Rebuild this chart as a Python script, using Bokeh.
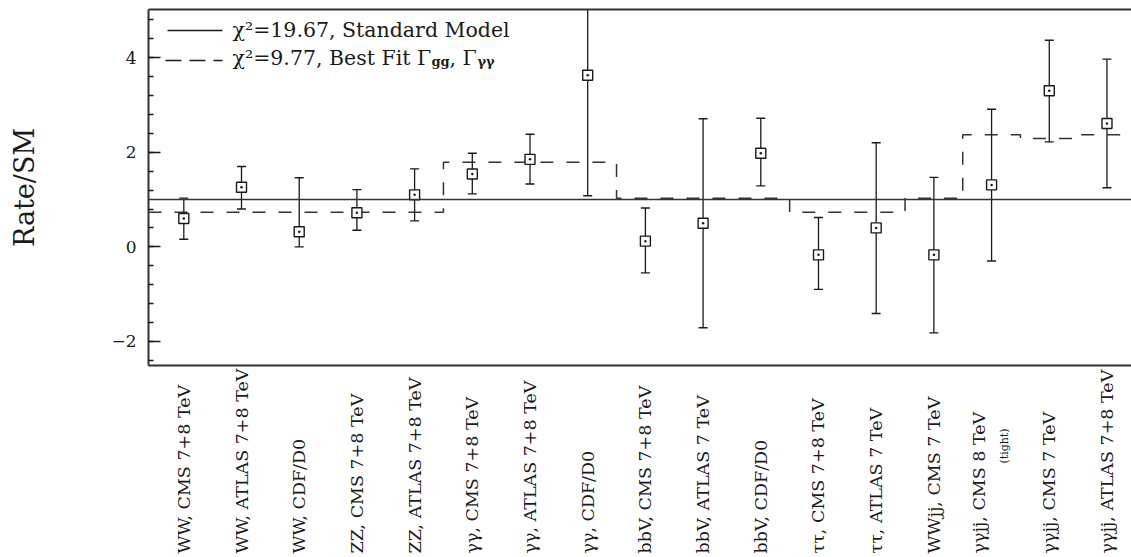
import numpy as np
from bokeh.plotting import figure
from bokeh.layouts import column
from bokeh.models import (ColumnDataSource, Label, Arrow, Span, Range1d,
                          LinearAxis, SingleIntervalTicker, FixedTicker)
from bokeh.embed import file_html
from bokeh.resources import INLINE
from bokeh.core.properties import value

# ---------------- data ----------------
categories = [
    "WW, CMS 7+8 TeV", "WW, ATLAS 7+8 TeV", "WW, CDF/D0",
    "ZZ, CMS 7+8 TeV", "ZZ, ATLAS 7+8 TeV",
    "γγ, CMS 7+8 TeV", "γγ, ATLAS 7+8 TeV", "γγ, CDF/D0",
    "bbV, CMS 7+8 TeV", "bbV, ATLAS 7 TeV", "bbV, CDF/D0",
    "ττ, CMS 7+8 TeV", "ττ, ATLAS 7 TeV",
    "WWjj, CMS 7 TeV",
    "γγjj, CMS 8 TeV", "γγjj, CMS 7 TeV", "γγjj, ATLAS 7+8 TeV",
]
sublabels = {"γγjj, CMS 8 TeV": "(tight)"}

rate = [0.60, 1.26, 0.32, 0.72, 1.10, 1.54, 1.85, 3.63, 0.12, 0.50, 1.98,
        -0.17, 0.40, -0.17, 1.31, 3.30, 2.61]
rate_hi = [1.03, 1.70, 1.46, 1.21, 1.65, 1.98, 2.38, 6.20, 0.82, 2.71, 2.72,
           0.62, 2.20, 1.47, 2.91, 4.37, 3.97]
rate_lo = [0.16, 0.80, 0.00, 0.35, 0.55, 1.12, 1.33, 1.08, -0.55, -1.71, 1.29,
           -0.90, -1.41, -1.82, -0.30, 2.22, 1.25]
best_fit = [0.73, 0.73, 0.73, 0.73, 0.73, 1.79, 1.79, 1.79, 1.03, 1.03, 1.03,
            0.73, 0.73, 1.03, 2.37, 2.29, 2.37]
sm_value = 1.0

legend_sm = "χ²=19.67, Standard Model"
legend_fit = "χ²=9.77, Best Fit Γ"
legend_fit_sub1 = "gg"
legend_fit_mid = ", Γ"
legend_fit_sub2 = "γγ"
y_label = "Rate/SM"
y_tick_interval = 2

# ---------------- figure ----------------
n = len(categories)
xs = np.arange(1, n + 1, dtype=float)
X0, X1 = 0.388, 17.425
Y0, Y1 = -2.51, 5.02

FONT = "DejaVu Serif"
INK = "#1a1a1a"
LEFT = 148

p = figure(width=1131, height=368, x_range=Range1d(X0, X1), y_range=Range1d(Y0, Y1),
           output_backend="svg", toolbar_location=None,
           x_axis_location=None, y_axis_location=None,
           min_border_left=LEFT, min_border_right=0, min_border_top=9, min_border_bottom=3)
p.outline_line_color = None
p.xgrid.visible = False
p.ygrid.visible = False

yaxis = LinearAxis(ticker=SingleIntervalTicker(interval=y_tick_interval, num_minor_ticks=5))
yaxis.major_tick_in = 12
yaxis.major_tick_out = 0
yaxis.minor_tick_in = 5
yaxis.minor_tick_out = 0
yaxis.major_tick_line_width = 1.5
yaxis.minor_tick_line_width = 1.5
yaxis.major_tick_line_color = INK
yaxis.minor_tick_line_color = INK
yaxis.axis_line_width = 2
yaxis.axis_line_color = "#333333"
yaxis.major_label_standoff = 12
yaxis.major_label_text_font = FONT
yaxis.major_label_text_font_size = "17px"
yaxis.major_label_text_color = INK
yaxis.axis_label = y_label
yaxis.axis_label_standoff = 68
yaxis.axis_label_text_font = FONT
yaxis.axis_label_text_font_size = "27px"
yaxis.axis_label_text_font_style = "normal"
yaxis.axis_label_text_color = INK
p.add_layout(yaxis, "left")

for side in ("below", "above"):
    ax = LinearAxis(ticker=FixedTicker(ticks=[]))
    ax.major_tick_in = 0
    ax.major_tick_out = 0
    ax.minor_tick_in = 0
    ax.minor_tick_out = 0
    ax.major_label_text_font_size = "0px"
    ax.major_label_standoff = 0
    ax.axis_line_width = 2
    ax.axis_line_color = "#333333"
    p.add_layout(ax, side)

# SM line
p.add_layout(Span(location=sm_value, dimension="width", line_color="#333333", line_width=1.6))

# Best-fit step line (edges at midpoints between categories)
edges = np.concatenate([[X0], (xs[:-1] + xs[1:]) / 2, [X1]])
step_x = np.repeat(edges, 2)[1:-1]
step_y = np.repeat(np.array(best_fit), 2)
p.line(step_x, step_y, line_color="#333333", line_width=1.5, line_dash="13 13")

src = ColumnDataSource(dict(x=xs, rate=rate, lo=rate_lo, hi=rate_hi))
p.segment(x0="x", y0="lo", x1="x", y1="hi", source=src, line_color=INK, line_width=1.3)
p.scatter("x", "lo", source=src, marker="dash", size=9, line_color=INK, line_width=1.4)
p.scatter("x", "hi", source=src, marker="dash", size=9, line_color=INK, line_width=1.4)
p.scatter("x", "rate", source=src, marker="square_dot", size=10, fill_color="white",
          line_color=INK, line_width=1.4)

# Legend (drawn manually, frame-relative screen units)
p.add_layout(Arrow(end=None, x_start=19, y_start=335, x_end=74, y_end=335,
                   start_units="screen", end_units="screen",
                   line_color=INK, line_width=1.4))
p.add_layout(Arrow(end=None, x_start=17, y_start=305, x_end=74, y_end=305,
                   start_units="screen", end_units="screen",
                   line_color=INK, line_width=1.4, line_dash="16 8"))
p.add_layout(Label(x=84, y=336, x_units="screen", y_units="screen", text=legend_sm,
                   text_font=FONT, text_font_size="20.5px", text_color=INK,
                   text_baseline="alphabetic"))
p.add_layout(Label(x=84, y=308, x_units="screen", y_units="screen", text=legend_fit,
                   text_font=FONT, text_font_size="20.5px", text_color=INK,
                   text_baseline="alphabetic"))
p.add_layout(Label(x=283, y=304, x_units="screen", y_units="screen", text=legend_fit_sub1,
                   text_font=FONT, text_font_size="13px", text_font_style="bold",
                   text_color=INK, text_baseline="alphabetic"))
p.add_layout(Label(x=301, y=308, x_units="screen", y_units="screen", text=legend_fit_mid,
                   text_font=FONT, text_font_size="20.5px", text_color=INK,
                   text_baseline="alphabetic"))
p.add_layout(Label(x=329, y=304, x_units="screen", y_units="screen", text=legend_fit_sub2,
                   text_font=FONT, text_font_size="13px", text_font_style="bold",
                   text_color=INK, text_baseline="alphabetic"))

# ---------------- category label strip ----------------
p2 = figure(width=1131, height=189, x_range=p.x_range, y_range=Range1d(-4, 185),
            output_backend="svg", toolbar_location=None,
            x_axis_location=None, y_axis_location=None,
            min_border_left=LEFT, min_border_right=0, min_border_top=0, min_border_bottom=0)
p2.outline_line_color = None
p2.xgrid.visible = False
p2.ygrid.visible = False

xoff = [-13 if c in sublabels else 0 for c in categories]
lab_src = ColumnDataSource(dict(x=xs, y=np.zeros(n), text=categories, xoff=xoff))
p2.text(x="x", y="y", text="text", source=lab_src, x_offset="xoff", angle=np.pi / 2,
        text_align="left", text_baseline="middle", text_font=value(FONT),
        text_font_size="17.5px", text_color=INK)

sub_idx = [i for i, c in enumerate(categories) if c in sublabels]
sub_src = ColumnDataSource(dict(x=xs[sub_idx], y=np.full(len(sub_idx), 90.0),
                                text=[sublabels[categories[i]] for i in sub_idx]))
p2.text(x="x", y="y", text="text", source=sub_src, x_offset=13, angle=np.pi / 2,
        text_align="left", text_baseline="middle", text_font=value(FONT),
        text_font_size="11px", text_color=INK)

layout = column(p, p2, spacing=0)
open("out.html", "w").write(file_html(layout, INLINE))
